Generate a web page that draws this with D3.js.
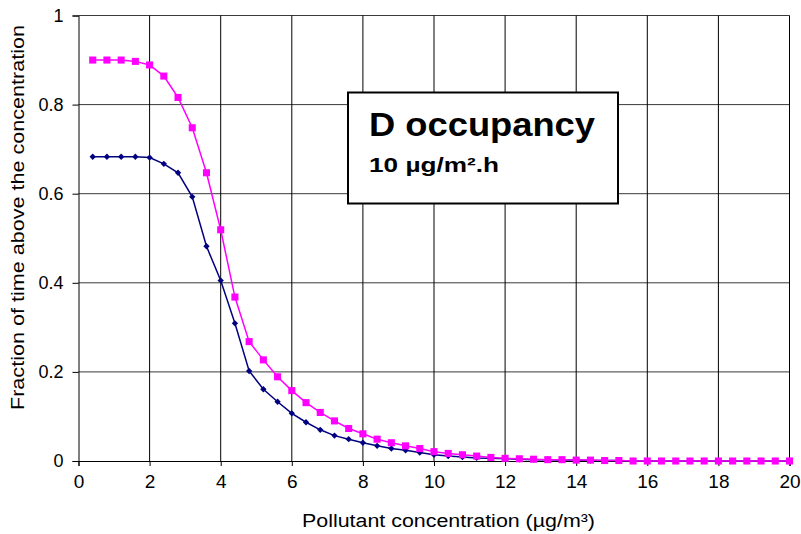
<!DOCTYPE html>
<html>
<head>
<meta charset="utf-8">
<script src="https://cdn.jsdelivr.net/npm/d3@7"></script>
<style>
  body { margin: 0; background: #fff; }
  text { font-family: Arial, "Liberation Sans", sans-serif; }
</style>
</head>
<body>
<div id="chart"></div>
<script>
/* Data */
var xValues = d3.range(1, 51).map(function (i) { return +(i * 0.4).toFixed(1); });

var navyValues = [0.683, 0.683, 0.683, 0.683, 0.681, 0.667, 0.647, 0.593, 0.482, 0.405,
                  0.309, 0.202, 0.161, 0.133, 0.107, 0.087, 0.070, 0.057, 0.049, 0.041,
                  0.034, 0.028, 0.024, 0.019, 0.014, 0.011, 0.009, 0.007, 0.006, 0.005,
                  0.004, 0.003, 0.003, 0.002, 0.002, 0.001, 0.001, 0.001, 0, 0,
                  0, 0, 0, 0, 0, 0, 0, 0, 0, 0];

var magentaValues = [0.900, 0.900, 0.900, 0.897, 0.889, 0.864, 0.816, 0.748, 0.647, 0.519,
                     0.368, 0.268, 0.227, 0.189, 0.158, 0.131, 0.109, 0.090, 0.073, 0.061,
                     0.049, 0.041, 0.034, 0.028, 0.021, 0.017, 0.014, 0.011, 0.008, 0.006,
                     0.005, 0.004, 0.003, 0.003, 0.002, 0.002, 0.001, 0.001, 0, 0,
                     0, 0, 0, 0, 0, 0, 0, 0, 0, 0];

var xTicks = [0, 2, 4, 6, 8, 10, 12, 14, 16, 18, 20];
var yTicks = [0, 0.2, 0.4, 0.6, 0.8, 1];

var titleLines = ["D occupancy", "10 µg/m².h"];

/* Layout */
var width = 801, height = 534;
var margin = {left: 78.5, right: 11.5, top: 15.5, bottom: 73};

var svg = d3.select("#chart").append("svg")
    .attr("width", width)
    .attr("height", height);

var x = d3.scaleLinear().domain([0, 20]).range([margin.left, width - margin.right]);
var y = d3.scaleLinear().domain([0, 1]).range([height - margin.bottom, margin.top]);

// gridlines
svg.append("g").selectAll("line").data(yTicks.filter(function (d) { return d > 0; })).enter().append("line")
    .attr("x1", x(0)).attr("x2", x(20))
    .attr("y1", function (d) { return y(d); }).attr("y2", function (d) { return y(d); })
    .style("stroke", "#3a3a3a").style("stroke-width", 1);

svg.append("g").selectAll("line").data(xTicks.filter(function (d) { return d > 0; })).enter().append("line")
    .attr("x1", function (d) { return x(d); }).attr("x2", function (d) { return x(d); })
    .attr("y1", y(0)).attr("y2", y(1))
    .style("stroke", "#000").style("stroke-width", 1);

// axes
var xAxis = d3.axisBottom(x).tickValues(xTicks).tickSize(5).tickPadding(9).tickFormat(d3.format("d"));
var yAxis = d3.axisLeft(y).tickValues(yTicks).tickSize(6).tickPadding(9).tickFormat(function (d) { return d === 0 || d === 1 ? d : d3.format(".1f")(d); });

var gx = svg.append("g").attr("transform", "translate(0," + y(0) + ")").call(xAxis);
var gy = svg.append("g").attr("transform", "translate(" + x(0) + ",0)").call(yAxis);

[gx, gy].forEach(function (g) {
    g.select(".domain").style("stroke", "#000");
    g.selectAll(".tick line").style("stroke", "#000");
    g.selectAll("text").style("fill", "#000")
        .style("font-family", "Arial, 'Liberation Sans', sans-serif");
});
gx.selectAll("text").style("font-size", "19px");
gy.selectAll("text").style("font-size", "18px");

// axis titles
svg.append("text")
    .attr("x", 302)
    .attr("y", 527)
    .attr("textLength", 293)
    .attr("lengthAdjust", "spacingAndGlyphs")
    .style("font-size", "18px")
    .text("Pollutant concentration (µg/m³)");

svg.append("text")
    .attr("transform", "translate(24,410) rotate(-90)")
    .attr("textLength", 385)
    .attr("lengthAdjust", "spacingAndGlyphs")
    .style("font-size", "18px")
    .text("Fraction of time above the concentration");

// series
function drawSeries(values, color, rot, size) {
    var pts = xValues.map(function (xv, i) { return {x: xv, y: values[i]}; });
    var line = d3.line().x(function (d) { return x(d.x); }).y(function (d) { return y(d.y); });
    svg.append("path").datum(pts)
        .attr("d", line)
        .style("fill", "none")
        .style("stroke", color)
        .style("stroke-width", 1.5);
    svg.append("g").selectAll("path").data(pts).enter().append("path")
        .attr("d", d3.symbol().type(d3.symbolSquare).size(size))
        .attr("transform", function (d) { return "translate(" + x(d.x) + "," + y(d.y) + ") rotate(" + rot + ")"; })
        .style("fill", color);
}

drawSeries(navyValues, "#000080", 45, 20);
drawSeries(magentaValues, "#ff00ff", 0, 50);

// title box
var box = svg.append("g");
box.append("rect")
    .attr("x", 348).attr("y", 92.5)
    .attr("width", 270).attr("height", 111)
    .style("fill", "#fff")
    .style("stroke", "#000")
    .style("stroke-width", 2);
box.append("text")
    .attr("x", 369).attr("y", 136)
    .attr("textLength", 226)
    .attr("lengthAdjust", "spacingAndGlyphs")
    .style("font-size", "34px").style("font-weight", "bold")
    .text(titleLines[0]);
box.append("text")
    .attr("x", 369).attr("y", 172)
    .attr("textLength", 130)
    .attr("lengthAdjust", "spacingAndGlyphs")
    .style("font-size", "21px").style("font-weight", "bold")
    .text(titleLines[1]);
</script>
</body>
</html>
